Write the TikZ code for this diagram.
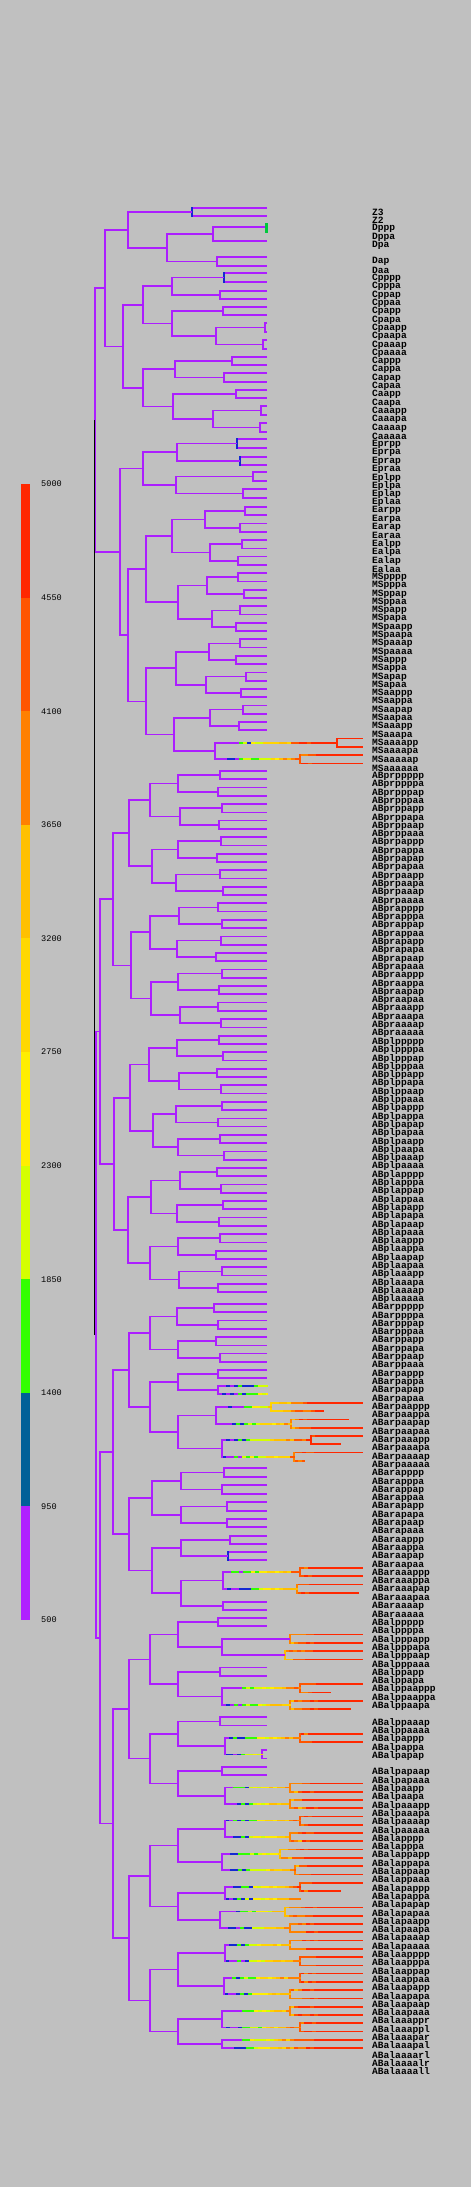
\documentclass[tikz,border=0pt]{standalone}
\usepackage{fontspec}
\newfontfamily\labfont{Liberation Mono}
\definecolor{bgc}{RGB}{192,192,192}
\definecolor{tp}{RGB}{172,30,255}
\definecolor{tblue}{RGB}{20,40,210}
\definecolor{tgreen}{RGB}{0,200,60}
\definecolor{hc0}{RGB}{172,30,255}
\definecolor{hc1}{RGB}{20,40,210}
\definecolor{hc2}{RGB}{50,255,0}
\definecolor{hc3}{RGB}{212,255,0}
\definecolor{hc4}{RGB}{255,238,0}
\definecolor{hc5}{RGB}{255,212,0}
\definecolor{hc6}{RGB}{255,190,0}
\definecolor{hc7}{RGB}{255,130,0}
\definecolor{hc8}{RGB}{255,85,0}
\definecolor{hc9}{RGB}{255,40,0}
\definecolor{lg0}{RGB}{255,40,0}
\definecolor{lg1}{RGB}{255,85,0}
\definecolor{lg2}{RGB}{255,128,0}
\definecolor{lg3}{RGB}{255,192,0}
\definecolor{lg4}{RGB}{255,216,0}
\definecolor{lg5}{RGB}{255,238,0}
\definecolor{lg6}{RGB}{212,255,0}
\definecolor{lg7}{RGB}{50,255,0}
\definecolor{lg8}{RGB}{0,96,152}
\definecolor{lg9}{RGB}{176,32,255}
\tikzset{
  tb/.style={line width=1.7pt, draw=tp, line join=miter},
  lab/.style={anchor=west, inner sep=0pt, font=\labfont\bfseries\fontsize{9.6}{10}\selectfont},
  leglab/.style={anchor=west, inner sep=0pt, font=\labfont\fontsize{8.6}{10}\selectfont},
}
% ---------- dendrogram machinery ----------
\def\tdy{8.27}
\def\cyv{0}
\def\tY#1{\xdef\cyv{#1}}
\def\tF{\xdef\rx{267}\xdef\ry{\cyv}\pgfmathparse{\cyv+\tdy}\xdef\cyv{\pgfmathresult}}
\def\tFx#1{\xdef\rx{#1}\xdef\ry{\cyv}\pgfmathparse{\cyv+\tdy}\xdef\cyv{\pgfmathresult}}
\def\tLf#1{\tY{#1}\tF}
\def\tmid#1{\pgfmathparse{(\ay+\by)/2}\xdef\ry{\pgfmathresult}\xdef\rx{#1}}
\def\tN#1#2#3{\begingroup#2\let\ax\rx\let\ay\ry#3\let\bx\rx\let\by\ry
  \draw[tb] (\ax,\ay) -- (#1,\ay) -- (#1,\by) -- (\bx,\by);
  \tmid{#1}\endgroup}
\def\tNc#1#2#3#4{\begingroup#3\let\ax\rx\let\ay\ry#4\let\bx\rx\let\by\ry
  \draw[tb] (\ax,\ay) -- (#2,\ay) -- (#2,\by) -- (\bx,\by);
  \draw[tb,draw=#1,line cap=rect] (#2,\ay) -- (#2,\by);
  \tmid{#2}\endgroup}
\def\hoth#1#2#3{\begingroup
  \pgfmathsetmacro\hs{#1}%
  \loop
    \pgfmathsetmacro\he{min(\hs+4,#2)}%
    \pgfmathtruncatemacro\ci{max(0,min(9,round((\hs-226)/9.5+2.4*rnd-1.2)))}%
    \draw[tb,draw=hc\ci] (\hs,#3) -- (\he+0.6,#3);
    \let\hs\he
    \pgfmathtruncatemacro\cont{\hs<#2-0.05}%
  \ifnum\cont=1 \repeat
  \endgroup}
\def\tH#1#2#3{\begingroup#2\let\ax\rx\let\ay\ry#3\let\bx\rx\let\by\ry
  \hoth{#1}{\ax}{\ay}\hoth{#1}{\bx}{\by}%
  \pgfmathtruncatemacro\ci{max(0,min(9,round((#1-226)/9.5)))}%
  \draw[tb,draw=hc\ci,line cap=rect] (#1,\ay) -- (#1,\by);
  \tmid{#1}\endgroup}
\def\gTwo#1{\tN{#1}{\tF}{\tF}}
\def\gFour#1#2#3{\tN{#1}{\gTwo{#2}}{\gTwo{#3}}}
\def\gEight#1#2#3#4#5#6#7{\tN{#1}{\gFour{#2}{#3}{#4}}{\gFour{#5}{#6}{#7}}}
\def\hP#1#2#3{\tH{#1}{\tFx{#2}}{\tFx{#3}}}
\def\suflist{ppppp,ppppa,pppap,pppaa,ppapp,ppapa,ppaap,ppaaa,pappp,pappa,papap,papaa,paapp,paapa,paaap,paaaa,apppp,apppa,appap,appaa,apapp,apapa,apaap,apaaa,aappp,aappa,aapap,aapaa,aaapp,aaapa,aaaap,aaaaa}
\begin{document}
\begin{tikzpicture}[x=1pt,y=-1pt]
\pgfmathsetseed{7}
\fill[bgc] (0,0) rectangle (471,2187);
\useasboundingbox (0,0) rectangle (471,2187);
% ---------- legend ----------
\foreach \i in {0,...,9} {
  \fill[lg\i] (21,{484+113.6*\i}) rectangle (30,{484+113.6*(\i+1)});
}
\foreach \v [count=\i from 0] in {5000,4550,4100,3650,3200,2750,2300,1850,1400,950,500} {
  \node[leglab] (leg\i) at (41,{484+113.6*\i}) {\v};
}
% ---------- P1 side ----------
\tN{95.3}{%
  \tN{105}{%
    \tN{128}{\tNc{tblue}{192}{\tLf{208}}{\tLf{216}}}%
            {\tN{167}{\tN{213}{\tLf{227}}{\tLf{241}}}{\tN{217}{\tLf{257}}{\tLf{266}}}}}%
   {\tN{123}{\tN{143}{\tN{172}{\tNc{tblue}{224}{\tLf{273}}{\tLf{282}}}{\tN{220}{\tLf{291}}{\tLf{299}}}}%
                     {\tN{172}{\tN{223}{\tLf{307}}{\tLf{315}}}{\tN{216}{\tN{265}{\tLf{323}}{\tLf{332}}}{\tN{263}{\tLf{340}}{\tLf{349}}}}}}%
            {\tN{143}{\tN{175}{\tN{232}{\tLf{357}}{\tLf{365}}}{\tN{224}{\tLf{373}}{\tLf{382}}}}%
                     {\tN{173}{\tN{236}{\tLf{390}}{\tLf{398}}}{\tN{213}{\tN{261}{\tLf{406}}{\tLf{415}}}{\tN{260}{\tLf{423}}{\tLf{432}}}}}}}}%
 {\tN{120}{%
   \tN{143}{\tN{177}{\tNc{tblue}{237}{\tLf{439}}{\tLf{448}}}{\tNc{tblue}{240}{\tLf{457}}{\tLf{465}}}}%
           {\tN{176}{\tN{253}{\tLf{472}}{\tLf{481}}}{\tN{243}{\tLf{489}}{\tLf{498}}}}}%
  {\tY{507}%
   \tN{128}{\tN{146}{\gEight{172}{205}{245}{240}{210}{242}{238}}{\gEight{178}{207}{238}{244}{212}{240}{236}}}%
           {\tN{146}{\gEight{176}{209}{240}{236}{206}{246}{241}}%
                    {\tN{174}{\gFour{210}{243}{239}}{\tH{215}{\hP{337}{362}{362}}{\hP{300}{362}{362}}}}}}}%
\let\pone\ry
% ---------- AB side ----------
\tN{95.7}{%
  \tY{771}%
  \tN{100}{%
    \tN{113}{\tN{129}{\gEight{150}{178}{220}{218}{180}{222}{219}}{\gEight{152}{178}{221}{217}{176}{220}{223}}}%
            {\tN{131}{\gEight{150}{179}{218}{222}{177}{221}{216}}{\gEight{151}{178}{222}{219}{180}{218}{221}}}}%
   {\tN{114}{\tN{130}{\gEight{149}{177}{219}{223}{179}{217}{221}}{\gEight{153}{176}{222}{218}{178}{220}{224}}}%
            {\tN{128}{\gEight{151}{180}{217}{221}{177}{223}{219}}{\gEight{150}{178}{220}{216}{179}{222}{218}}}}}%
 {\tN{100}{%
   \tN{112.7}{%
     \tN{129}{\tY{1304}\gEight{150}{177}{214}{218}{178}{216}{220}}%
       {\tN{150}{\tN{178}{\tN{218}{\tLf{1370}}{\tLf{1378}}}{\tH{218}{\tLf{1386}}{\tLf{1394}}}}%
                {\tN{178}{\tH{216}{\tH{271}{\tY{1403}\tFx{362}}{\tFx{323}}}{\tH{291}{\tFx{348}}{\tFx{362}}}}%
                         {\tH{222}{\tH{311}{\tY{1436}\tFx{362}}{\tFx{340}}}{\tH{294}{\tFx{362}}{\tFx{304}}}}}}}%
    {\tN{129}{\tN{152}{\tN{181}{\tN{224}{\tLf{1468}}{\tLf{1477}}}{\tN{222}{\tLf{1485}}{\tLf{1494}}}}%
                      {\tN{181}{\tN{227}{\tLf{1502}}{\tLf{1511}}}{\tN{227}{\tLf{1519}}{\tLf{1527}}}}}%
             {\tN{152}{\tN{181}{\tN{230}{\tLf{1536}}{\tLf{1544}}}{\tNc{tblue}{228}{\tLf{1552}}{\tLf{1560}}}}%
                      {\tN{181}{\tH{223}{\tH{300}{\tY{1568}\tFx{362}}{\tFx{362}}}{\tH{297}{\tFx{362}}{\tFx{358}}}}%
                               {\tN{223}{\tLf{1602}}{\tLf{1610}}}}}}}%
  {\tY{1618}%
   \tN{113}{%
     \tN{129}{\tN{150}{\tN{178}{\gTwo{218}}{\tN{222}{\hP{290}{362}{362}}{\hP{285}{362}{362}}}}%
                      {\tN{178}{\gTwo{220}}{\tH{222}{\hP{300}{362}{330}}{\hP{290}{362}{350}}}}}%
             {\tN{150}{\tN{178}{\gTwo{220}}{\tH{225}{\hP{300}{362}{362}}{\tN{262}{\tF}{\tF}}}}%
                      {\tN{178}{\gTwo{222}}{\tH{225}{\hP{290}{362}{362}}{\hP{290}{362}{362}}}}}}%
    {\tN{129}{\tN{150}{\tN{178}{\tH{225}{\hP{300}{362}{362}}{\hP{290}{362}{362}}}{\tH{222}{\hP{280}{362}{362}}{\hP{295}{362}{362}}}}%
                      {\tN{178}{\tH{225}{\hP{300}{362}{340}}{\tFx{300}}}{\tH{220}{\hP{285}{362}{362}}{\hP{290}{362}{362}}}}}%
             {\tN{150}{\tN{178}{\tH{225}{\hP{290}{362}{362}}{\hP{300}{362}{362}}}{\tH{224}{\hP{300}{362}{362}}{\hP{290}{362}{362}}}}%
                      {\tN{178}{\tH{222}{\hP{290}{362}{362}}{\hP{300}{362}{362}}}{\hP{222}{362}{362}}}}}}}
\let\abm\ry
% root (black)
\draw[line width=1.7pt,black] (94.6,\pone) -- (94.6,\abm);
\fill[tgreen] (265,223) rectangle (267.5,233);
% ---------- labels ----------
\foreach \nm [count=\k from 0] in {Z3,Z2,Dppp,Dppa,Dpa,{},Dap,Daa,Cpppp,Cpppa,Cppap,Cppaa,Cpapp,Cpapa,Cpaapp,Cpaapa,Cpaaap,Cpaaaa,Cappp,Cappa,Capap,Capaa,Caapp,Caapa,Caaapp,Caaapa,Caaaap,Caaaaa,Eprpp,Eprpa,Eprap,Epraa,Eplpp,Eplpa,Eplap,Eplaa,Earpp,Earpa,Earap,Earaa,Ealpp,Ealpa,Ealap,Ealaa,MSpppp,MSpppa,MSppap,MSppaa,MSpapp,MSpapa,MSpaapp,MSpaapa,MSpaaap,MSpaaaa,MSappp,MSappa,MSapap,MSapaa,MSaappp,MSaappa,MSaapap,MSaapaa,MSaaapp,MSaaapa,MSaaaapp,MSaaaapa,MSaaaaap,MSaaaaaa}
  {\node[lab] (la\k) at (372,{212+8.3*\k}) {\nm};}
\foreach \s [count=\k from 68] in \suflist {\node[lab] (lb\k) at (372,{212+8.3*\k}) {ABpr\s};}
\foreach \s [count=\k from 100] in \suflist {\node[lab] (lc\k) at (372,{212+8.3*\k}) {ABpl\s};}
\foreach \nm [count=\k from 132] in {ABarppppp,ABarppppa,ABarpppap,ABarpppaa,ABarppapp,ABarppapa,ABarppaap,ABarppaaa,ABarpappp,ABarpappa,ABarpapap,ABarpapaa,ABarpaappp,ABarpaappa,ABarpaapap,ABarpaapaa,ABarpaaapp,ABarpaaapa,ABarpaaaap,ABarpaaaaa,ABarapppp,ABarapppa,ABarappap,ABarappaa,ABarapapp,ABarapapa,ABarapaap,ABarapaaa,ABaraappp,ABaraappa,ABaraapap,ABaraapaa,ABaraaappp,ABaraaappa,ABaraaapap,ABaraaapaa,ABaraaaap,ABaraaaaa,ABalppppp,ABalppppa,ABalpppapp,ABalpppapa,ABalpppaap,ABalpppaaa,ABalppapp,ABalppapa,ABalppaappp,ABalppaappa,ABalppaapa,{},ABalppaaap,ABalppaaaa,ABalpappp,ABalpappa,ABalpapap,{},ABalpapaap,ABalpapaaa,ABalpaapp,ABalpaapa,ABalpaaapp,ABalpaaapa,ABalpaaaap,ABalpaaaaa,ABalapppp,ABalapppa,ABalappapp,ABalappapa,ABalappaap,ABalappaaa,ABalapappp,ABalapappa,ABalapapap,ABalapapaa,ABalapaapp,ABalapaapa,ABalapaaap,ABalapaaaa,ABalaapppp,ABalaapppa,ABalaappap,ABalaappaa,ABalaapapp,ABalaapapa,ABalaapaap,ABalaapaaa,ABalaaappr,ABalaaappl,ABalaaapar,ABalaaapal,ABalaaaarl,ABalaaaalr,ABalaaaall}
  {\node[lab] (ld\k) at (372,{212+8.3*\k}) {\nm};}
\end{tikzpicture}
\end{document}
